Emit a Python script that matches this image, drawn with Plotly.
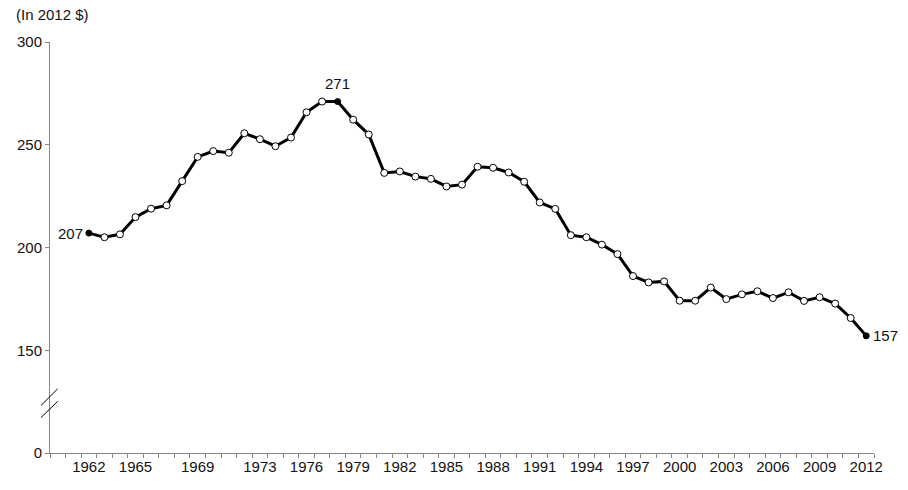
import plotly.graph_objects as go

years = list(range(1962, 2013))
values = [207, 205, 206.4, 214.8, 218.9, 220.5, 232.3, 244.1, 246.9, 246.1,
          255.6, 252.7, 249.3, 253.5, 265.8, 271, 271, 262.2, 255, 236.3,
          237, 234.5, 233.4, 229.7, 230.6, 239.3, 238.8, 236.5, 232, 221.9,
          218.8, 206, 205, 201.4, 196.8, 186.1, 183, 183.5, 174.1, 174.1,
          180.5, 174.9, 177.2, 178.7, 175.4, 178.2, 174, 175.8, 172.7, 165.7, 157]
tick_years = [1962, 1965, 1969, 1973, 1976, 1979, 1982, 1985, 1988, 1991,
              1994, 1997, 2000, 2003, 2006, 2009, 2012]
y_tickvals = [100, 150, 200, 250, 300]
y_ticktext = ["0", "150", "200", "250", "300"]
highlight_years = [1962, 1978, 2012]
label_text = ["207", "271", "157"]

FONT = "Liberation Sans, Arial, sans-serif"
TXT = "#111111"
AXC = "#868686"
FS = 15

marker_colors = ["black" if y in highlight_years else "white" for y in years]
marker_sizes = [6 if y in highlight_years else 7 for y in years]

fig = go.Figure()
fig.add_trace(go.Scatter(
    x=years, y=values, mode="lines+markers",
    line=dict(color="black", width=3),
    marker=dict(color=marker_colors, size=marker_sizes, opacity=1,
                line=dict(color="black", width=1)),
    hoverinfo="x+y", showlegend=False, cliponaxis=False,
))

vals = dict(zip(years, values))
fig.add_annotation(x=highlight_years[0], y=vals[highlight_years[0]], text=label_text[0],
                   showarrow=False, xanchor="right", yanchor="middle", xshift=-4,
                   font=dict(family=FONT, size=FS, color=TXT))
fig.add_annotation(x=highlight_years[1], y=vals[highlight_years[1]], text=label_text[1],
                   showarrow=False, xanchor="center", yanchor="bottom", yshift=8,
                   font=dict(family=FONT, size=FS, color=TXT))
fig.add_annotation(x=highlight_years[2], y=vals[highlight_years[2]], text=label_text[2],
                   showarrow=False, xanchor="left", yanchor="middle", xshift=5,
                   font=dict(family=FONT, size=FS, color=TXT))

fig.add_annotation(xref="paper", yref="paper", x=-0.044, y=1.068,
                   text="(In 2012 $)", showarrow=False, xanchor="left", yanchor="middle",
                   font=dict(family=FONT, size=FS, color=TXT))

for (ya, yb) in [(123.1, 131.2), (117.2, 125.1)]:
    fig.add_shape(type="line", xref="paper", yref="y",
                  x0=-0.011, x1=0.0093, y0=ya, y1=yb,
                  line=dict(color="black", width=1))

half_ticks = [y - 0.5 for y in range(1960, 2014)]

fig.update_xaxes(
    range=[1959.5, 2012.5], automargin=False,
    tickmode="array", tickvals=tick_years, ticktext=[str(t) for t in tick_years],
    ticks="", showgrid=False, zeroline=False,
    showline=True, linecolor=AXC, linewidth=1,
    tickfont=dict(family=FONT, size=FS, color=TXT),
    minor=dict(tickmode="array", tickvals=half_ticks, ticks="outside",
               ticklen=4, tickcolor=AXC, tickwidth=1, showgrid=False),
)
fig.update_yaxes(
    range=[100, 300], automargin=False,
    tickmode="array", tickvals=y_tickvals, ticktext=y_ticktext,
    ticks="outside", ticklen=4, tickcolor=AXC, tickwidth=1,
    showgrid=False, zeroline=False,
    showline=True, linecolor=AXC, linewidth=1,
    tickfont=dict(family=FONT, size=FS, color=TXT),
)
fig.update_layout(
    width=908, height=490,
    margin=dict(l=50, r=34, t=42, b=37, autoexpand=False),
    plot_bgcolor="white", paper_bgcolor="white",
    font=dict(family=FONT, color=TXT),
)
fig.write_html("out.html", config={"displayModeBar": False},
               post_script="document.body.style.margin='0';document.body.style.overflow='hidden';")
